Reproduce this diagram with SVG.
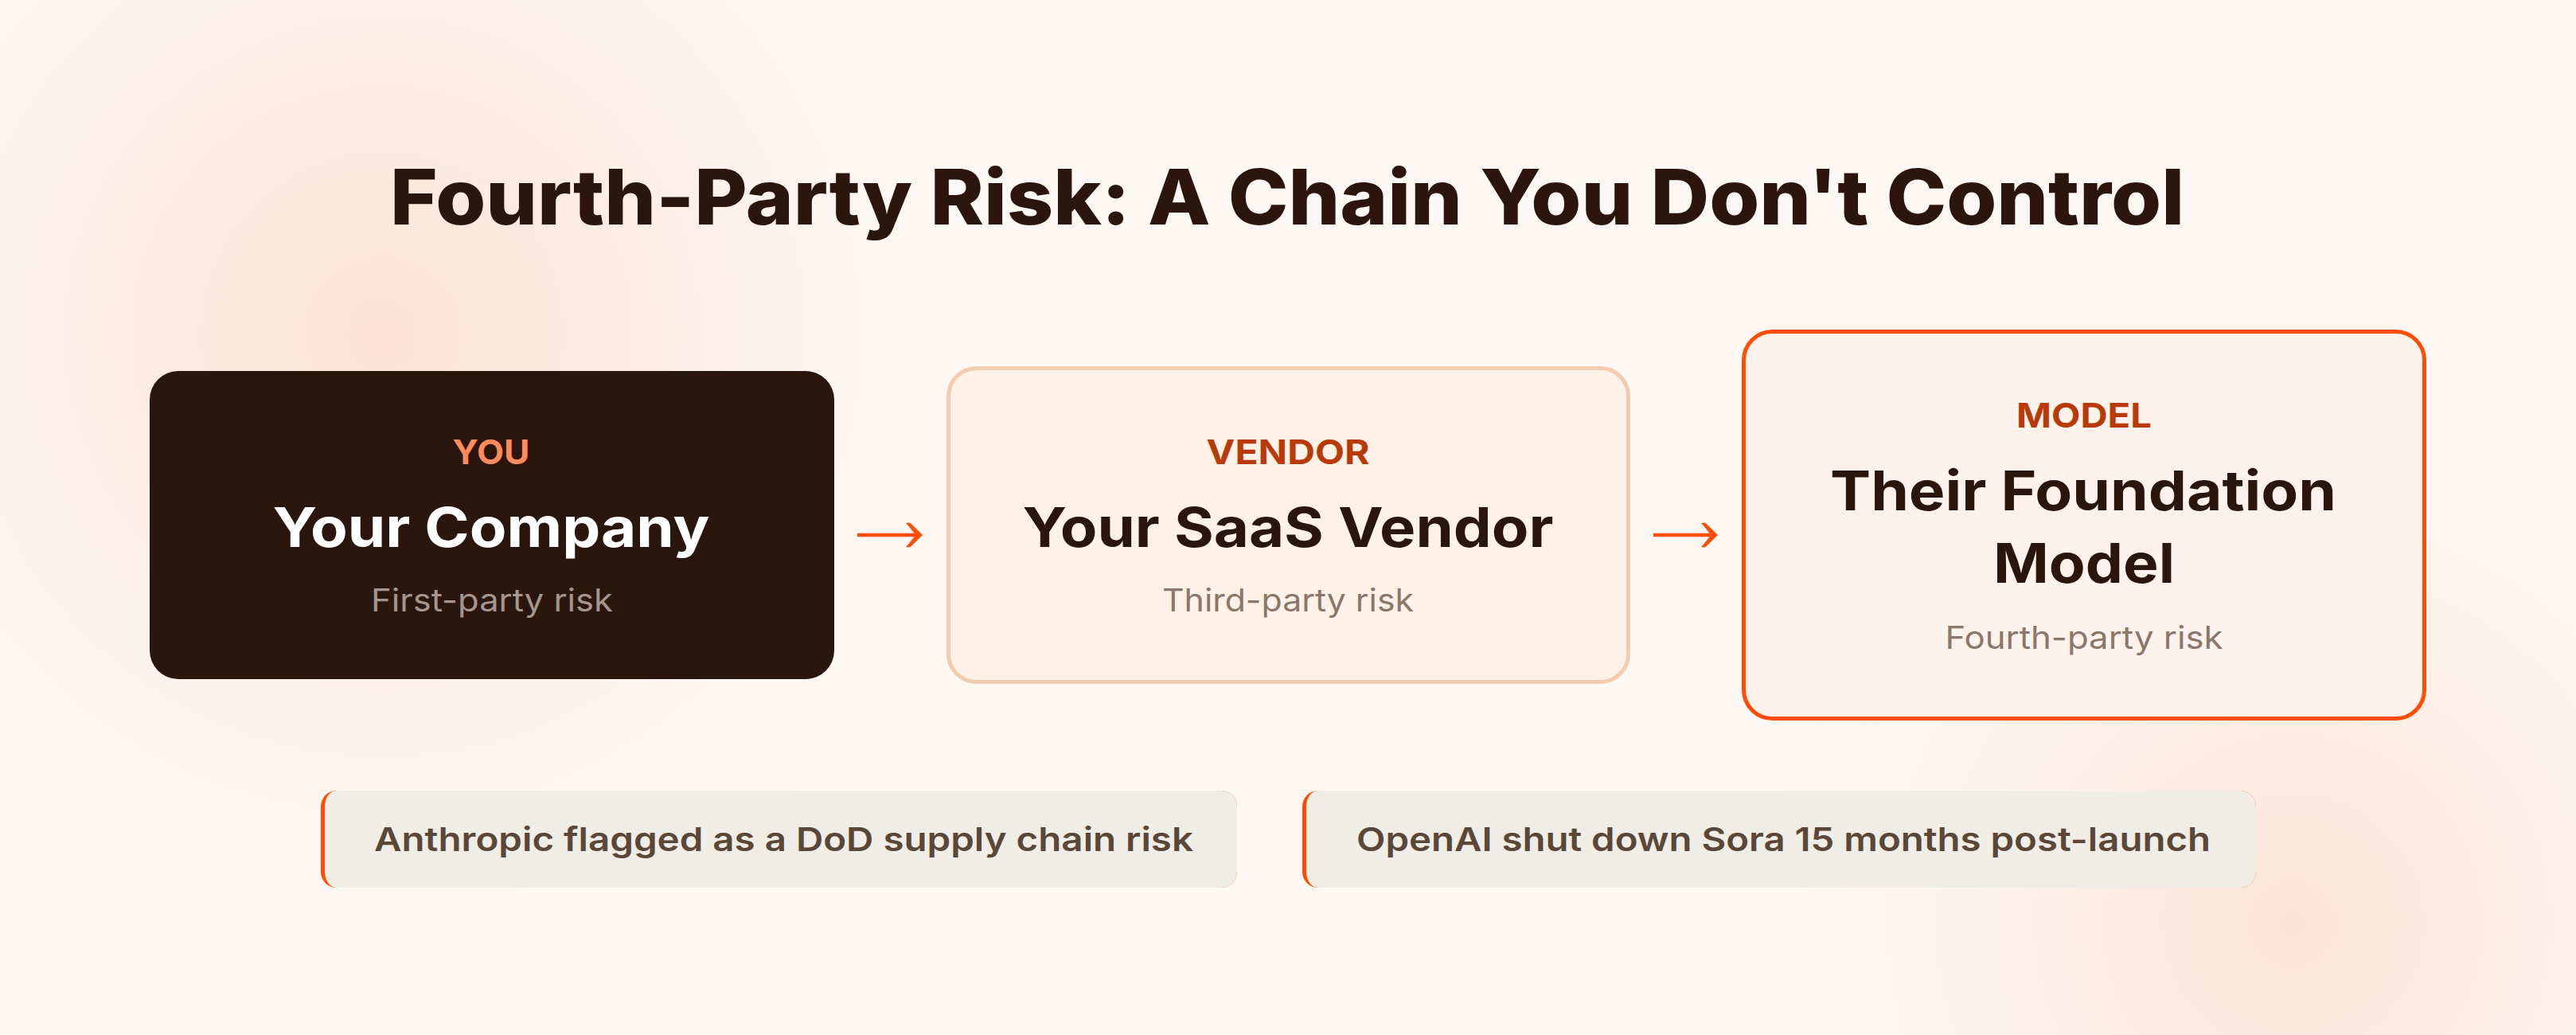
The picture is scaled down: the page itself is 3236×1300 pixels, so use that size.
<svg xmlns="http://www.w3.org/2000/svg" width="3236" height="1300" viewBox="0 0 3236 1300">
  <defs>
    <radialGradient id="glowTL" cx="480" cy="420" r="820" gradientUnits="userSpaceOnUse">
      <stop offset="0" stop-color="#FDE2D4" stop-opacity="1"/>
      <stop offset="0.45" stop-color="#FDEAE0" stop-opacity="0.7"/>
      <stop offset="1" stop-color="#FDF8F4" stop-opacity="0"/>
    </radialGradient>
    <radialGradient id="glowBR" cx="2880" cy="1160" r="700" gradientUnits="userSpaceOnUse">
      <stop offset="0" stop-color="#FDE3D6" stop-opacity="1"/>
      <stop offset="0.5" stop-color="#FDEBE2" stop-opacity="0.6"/>
      <stop offset="1" stop-color="#FDF8F4" stop-opacity="0"/>
    </radialGradient>
    <marker id="arrowhead" markerUnits="userSpaceOnUse" viewBox="-24 -18 26 36" markerWidth="26" markerHeight="36" refX="-9" refY="0" orient="auto">
      <path d="M0,0 Q-8,-8 -16,-15.5 L-21,-15 Q-13,-6 -9,0 Q-13,6 -21,15 L-16,15.5 Q-8,8 0,0 Z" fill="#FF4D06"/>
    </marker>
    <style>
      .f { font-family: Inter, "Liberation Sans", Arial, sans-serif; }
      .title { font-size: 96px; font-weight: 800; fill: #2B150C; }
      .label { font-size: 43px; font-weight: 700; }
      .name { font-size: 69px; font-weight: 700; }
      .sub { font-size: 39px; font-weight: 400; }
      .note { font-size: 41px; font-weight: 600; fill: #5A4738; }
      .dark { fill: #2B160E; }
      .conn { stroke: #FF4D06; stroke-width: 4.5; fill: none; }
      .calloutBg { fill: #F0ECE6; }
      .calloutEdge { fill: #FF4D06; }
    </style>
  </defs>

  <rect x="0" y="0" width="3236" height="1300" fill="#FDF8F4"/>
  <rect x="0" y="0" width="3236" height="1300" fill="url(#glowTL)"/>
  <rect x="0" y="0" width="3236" height="1300" fill="url(#glowBR)"/>

  <g id="title">
    <text class="f title" x="1617" y="282" text-anchor="middle" textLength="2254" lengthAdjust="spacingAndGlyphs">Fourth-Party Risk: A Chain You Don't Control</text>
  </g>

  <g id="node-you">
    <rect x="188" y="466" width="860" height="387" rx="36" ry="36" fill="#2B160E"/>
    <text class="f label" x="617" y="583" text-anchor="middle" fill="#FF8A5C" textLength="97" lengthAdjust="spacingAndGlyphs">YOU</text>
    <text class="f name" x="617" y="687" text-anchor="middle" fill="#FFFFFF" textLength="549" lengthAdjust="spacingAndGlyphs">Your Company</text>
    <text class="f sub" x="618" y="768" text-anchor="middle" fill="#A4958E" textLength="304" lengthAdjust="spacingAndGlyphs">First-party risk</text>
  </g>

  <g id="node-vendor">
    <rect x="1191.5" y="462.5" width="854" height="394" rx="35" ry="35" fill="#FEF1E8" stroke="#F3CBAF" stroke-width="5"/>
    <text class="f label" x="1618" y="583" text-anchor="middle" fill="#B83A07" textLength="205" lengthAdjust="spacingAndGlyphs">VENDOR</text>
    <text class="f name dark" x="1618" y="687" text-anchor="middle" textLength="667" lengthAdjust="spacingAndGlyphs">Your SaaS Vendor</text>
    <text class="f sub" x="1618" y="768" text-anchor="middle" fill="#8C766A" textLength="316" lengthAdjust="spacingAndGlyphs">Third-party risk</text>
  </g>

  <g id="node-model">
    <rect x="2190.5" y="416.5" width="855" height="486" rx="36" ry="36" fill="#FEF3EC" stroke="#FF4D06" stroke-width="5"/>
    <text class="f label" x="2618" y="537" text-anchor="middle" fill="#B83A07" textLength="170" lengthAdjust="spacingAndGlyphs">MODEL</text>
    <text class="f name dark" x="2617" y="641" text-anchor="middle" textLength="636" lengthAdjust="spacingAndGlyphs">Their Foundation</text>
    <text class="f name dark" x="2618" y="732" text-anchor="middle" textLength="228" lengthAdjust="spacingAndGlyphs">Model</text>
    <text class="f sub" x="2618" y="815" text-anchor="middle" fill="#8C766A" textLength="349" lengthAdjust="spacingAndGlyphs">Fourth-party risk</text>
  </g>

  <g id="connectors">
    <path class="conn" d="M1077,672 L1150,672" marker-end="url(#arrowhead)"/>
    <path class="conn" d="M2077,672 L2149,672" marker-end="url(#arrowhead)"/>
  </g>

  <g id="callout-anthropic">
    <rect class="calloutEdge" x="403" y="993" width="1151" height="122" rx="20" ry="20"/>
    <path class="calloutBg" d="M423,993 H1534 A20,20 0 0 1 1554,1013 V1095 A20,20 0 0 1 1534,1115 H423 A15,20 0 0 1 408,1095 V1013 A15,20 0 0 1 423,993 Z"/>
    <text class="f note" x="470" y="1069" textLength="1029" lengthAdjust="spacingAndGlyphs">Anthropic flagged as a DoD supply chain risk</text>
  </g>

  <g id="callout-openai">
    <rect class="calloutEdge" x="1636" y="993" width="1198" height="122" rx="20" ry="20"/>
    <path class="calloutBg" d="M1656,993 H2814 A20,20 0 0 1 2834,1013 V1095 A20,20 0 0 1 2814,1115 H1656 A15,20 0 0 1 1641,1095 V1013 A15,20 0 0 1 1656,993 Z"/>
    <text class="f note" x="1704" y="1069" textLength="1073" lengthAdjust="spacingAndGlyphs">OpenAI shut down Sora 15 months post-launch</text>
  </g>
</svg>
